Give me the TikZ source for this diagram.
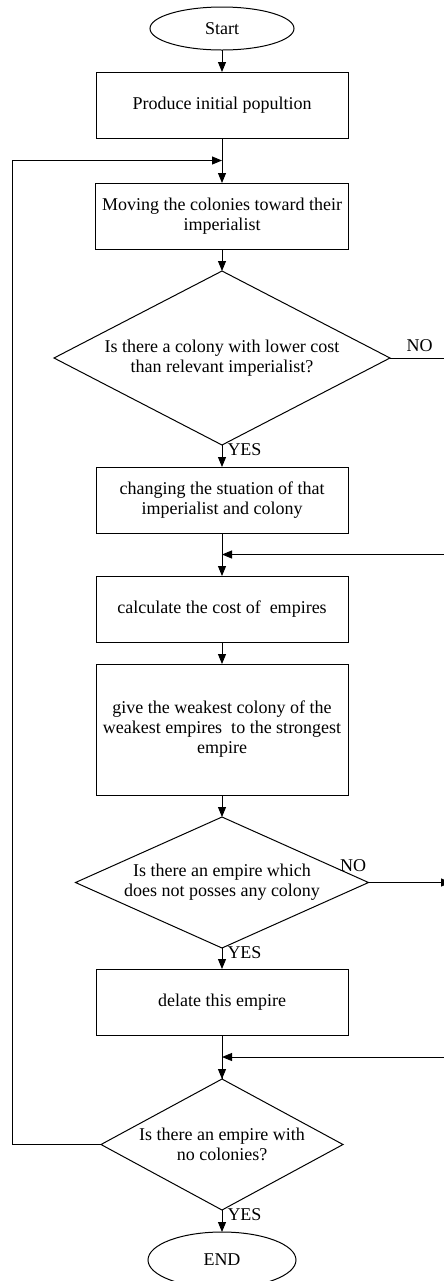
\documentclass[tikz,border=0pt]{standalone}
\usepackage{fontspec}
\setmainfont{Liberation Serif}
\usepackage{tikz}
\usetikzlibrary{arrows.meta, positioning, shapes.geometric, calc}

\begin{document}
\begin{tikzpicture}[
            font=\fontsize{9}{10}\selectfont,
            line width=0.5pt,
            node distance=11pt,
            terminal/.style={ellipse, draw, minimum width=72pt, minimum height=21.5pt, inner sep=0pt, outer sep=0pt},
            box/.style={rectangle, draw, minimum width=126pt, minimum height=33pt, align=center, outer sep=0pt},
            decision/.style={diamond, draw, inner sep=0pt, outer sep=0pt, align=center},
            arrow/.style={-{Triangle[length=5pt, width=4pt]}},
            answer/.style={inner sep=1pt}
        ]
            \useasboundingbox (0,0) rectangle (222pt,-640.5pt);
            \clip (0,0) rectangle (222pt,-640.5pt);
            \coordinate (right_edge) at (222pt,0);
            \coordinate (loop_x) at (6.35pt,0);

            \node[terminal] (start) at (111pt,-14.25pt) {Start};
            \node[box, below=of start] (init) {Produce initial popultion};
            \node[box, below=22.5pt of init] (move) {Moving the colonies toward their\\imperialist};
            \node[decision, aspect=1.93, minimum width=168pt, minimum height=87pt, below=of move] (check_cost) {Is there a colony with lower cost\\than relevant imperialist?};
            \node[box, below=of check_cost] (swap) {changing the stuation of that\\imperialist and colony};
            \node[box, below=21.5pt of swap] (cost) {calculate the cost of ~empires};
            \node[box, minimum height=65.5pt, below=of cost] (give) {give the weakest colony of the\\weakest empires ~to the strongest\\empire};
            \node[decision, aspect=2.24, minimum width=146.5pt, minimum height=65.5pt, below=of give] (check_empty) {Is there an empire which\\does not posses any colony};
            \node[box, below=10.5pt of check_empty] (delete) {delate this empire};
            \node[decision, aspect=1.85, minimum width=121pt, minimum height=65.5pt, below=22pt of delete] (check_end) {Is there an empire with\\no colonies?};
            \node[terminal, minimum width=74pt, minimum height=28pt, below=of check_end] (end_node) {END};

            \coordinate (loop_in) at ($(init.south)!0.5!(move.north)$);
            \coordinate (merge1) at ($(swap.south)!0.5!(cost.north)$);
            \coordinate (merge2) at ($(delete.south)!0.5!(check_end.north)$);

            \draw[arrow] (start) -- (init);
            \draw[arrow] (init) -- (move);
            \draw[arrow] (move) -- (check_cost);
            \draw[arrow] (check_cost) -- node[answer, pos=0, anchor=north west, xshift=1.5pt, yshift=2pt] {YES} (swap);
            \draw (check_cost.east) -- node[answer, above=2pt, pos=0.55] {NO} (check_cost.east -| right_edge);
            \draw[arrow] (swap) -- (cost);
            \draw[arrow] (merge1 -| right_edge) -- (merge1);
            \draw[arrow] (cost) -- (give);
            \draw[arrow] (give) -- (check_empty);
            \draw[arrow] (check_empty) -- node[answer, pos=0, anchor=north west, xshift=1.5pt, yshift=2pt] {YES} (delete);
            \draw[arrow] (check_empty.east) -- node[answer, pos=0, anchor=south east, yshift=4pt] {NO} ($(check_empty.east -| right_edge)+(3.5pt,0)$);
            \draw (delete) -- (check_end);
            \draw[arrow] (merge2 -| right_edge) -- (merge2);
            \draw[arrow] (merge2) -- (check_end);
            \draw[arrow] (check_end) -- node[answer, pos=0, anchor=north west, xshift=1.5pt, yshift=2pt] {YES} (end_node);
            \draw[arrow] (check_end.west) -- (check_end.west -| loop_x) |- (loop_in);
        \end{tikzpicture}
\end{document}
